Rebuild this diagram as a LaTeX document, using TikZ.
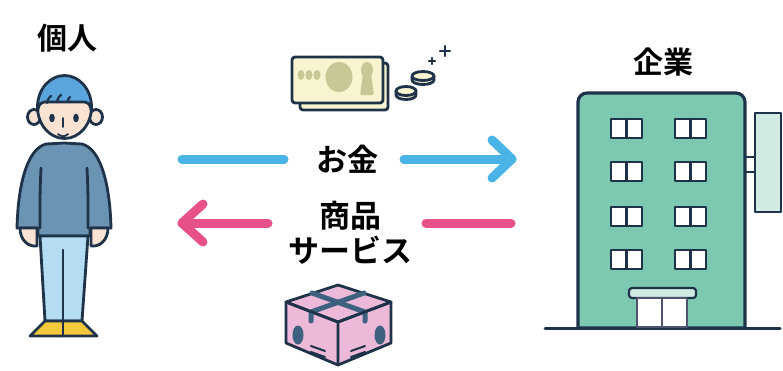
\documentclass[tikz,border=0pt]{standalone}
\usepackage{fontspec}
\newfontfamily\jpfont{Noto Sans CJK JP}[BoldFont={Noto Sans CJK JP Bold}]
\definecolor{ink}{HTML}{1E3349}
\definecolor{hair}{HTML}{5AA5DB}
\definecolor{skin}{HTML}{FBE3D3}
\definecolor{sweater}{HTML}{6B94B4}
\definecolor{pants}{HTML}{B4DCF3}
\definecolor{shoe}{HTML}{F3C93B}
\definecolor{moneyblue}{HTML}{4AB4E6}
\definecolor{goodspink}{HTML}{E8508A}
\definecolor{bill}{HTML}{F8F4CF}
\definecolor{billmark}{HTML}{C9C796}
\definecolor{boxpink}{HTML}{ECB9D9}
\definecolor{tape}{HTML}{3F6180}
\definecolor{wall}{HTML}{7CC8B1}
\definecolor{pale}{HTML}{D2EAE4}
\definecolor{doorline}{HTML}{4E5470}
\begin{document}
\begin{tikzpicture}[x=1pt,y=-1pt,line join=round,line cap=round,
  outline/.style={draw=ink,line width=2.8},
  thin outline/.style={draw=ink,line width=2.2},
  flowline/.style={line width=9,line cap=round,line join=round},
  title/.style={font=\jpfont\bfseries\fontsize{30}{34}\selectfont,inner sep=0},
  label/.style={font=\jpfont\bfseries\fontsize{31}{35}\selectfont,inner sep=0,align=center},
  pane/.style={thin outline,fill=white}]
\useasboundingbox (0,0) rectangle (783,370);

% ---------- person ----------
\node[title] (personlbl) at (67,38) {個人};
% ears
\filldraw[outline,fill=skin] (34,117) ellipse [x radius=6.5,y radius=7.5];
\filldraw[outline,fill=skin] (96,117) ellipse [x radius=6.5,y radius=7.5];
% sweater with sleeves
\filldraw[outline,fill=sweater] (64,143) -- (46,144)
  .. controls (27,149) and (18,185) .. (17,228) -- (38,228) -- (38,236)
  -- (90,236) -- (90,228) -- (111,228)
  .. controls (110,185) and (101,149) .. (82,144) -- cycle;
\draw[outline] (41,168) .. controls (40,190) .. (40,228);
\draw[outline] (87,168) .. controls (88,190) .. (88,228);
% hands
\filldraw[outline,fill=skin] (20,228) .. controls (20,240) and (28,247) .. (37,246) -- (37,228) -- cycle;
\filldraw[outline,fill=skin] (108,228) .. controls (108,240) and (100,247) .. (91,246) -- (91,228) -- cycle;
% trousers and shoes
\filldraw[outline,fill=pants] (40,236) -- (45,321) -- (82,321) -- (88,236) -- cycle;
\filldraw[outline,fill=shoe] (45,321) -- (30,336) -- (97,336) -- (82,321) -- cycle;
\draw[outline] (63,250) -- (63,336);
% head
\fill[skin] (64.5,107) ellipse [x radius=27,y radius=31.5];
\begin{scope}
  \clip (64.5,107) ellipse [x radius=27,y radius=31.5];
  \fill[hair] (20,60) -- (110,60) -- (110,114) -- (92,114)
    .. controls (90,104) .. (85,102) -- (44,102) .. controls (39,104) .. (37,114)
    -- (20,114) -- cycle;
  \draw[outline] (92,114) .. controls (90,104) .. (85,102) -- (44,102)
    .. controls (39,104) .. (37,114);
\end{scope}
\draw[outline] (64.5,107) ellipse [x radius=27,y radius=31.5];
\draw[thin outline] (47,103) .. controls (48,99) .. (51,96);
\draw[thin outline] (57,102) .. controls (58,98) .. (61,95);
\draw[thin outline] (68,102) .. controls (68,99) .. (70,97);
\fill[ink] (52,118) ellipse [x radius=2.8,y radius=4.3];
\fill[ink] (76,118) ellipse [x radius=2.8,y radius=4.3];
\draw[ink,line width=1.6] (63,118) -- (63,127);
\draw[ink,line width=1.8] (58,134) .. controls (61,137) and (65,137) .. (68,134);

% ---------- company building ----------
\node[title] (companylbl) at (663,62) {企業};
\draw[ink,line width=3] (545,328) -- (780,328);
\draw[ink,line width=2.8] (745,157) -- (755,157) (745,172) -- (755,172);
\filldraw[outline,fill=pale] (755,113) rectangle (781,212);
\filldraw[outline,fill=wall,line width=3.2]
  (578,328) -- (578,103) [rounded corners=9] -- (578,93) -- (745,93) [sharp corners] -- (745,103) -- (745,328) -- cycle;
\foreach \y in {119,162,207,250} {
  \foreach \x in {611,675} {
    \filldraw[pane] (\x,\y) rectangle ++(31,19);
    \draw[thin outline] (\x+15.5,\y) -- ++(0,19);
  }
}
\filldraw[thin outline,fill=pale,rounded corners=3] (629,288) rectangle (696,298);
\filldraw[draw=doorline,line width=2.2,fill=white] (637,298) rectangle (687,327);
\draw[doorline,line width=2.2] (662,298) -- (662,327);

% ---------- money ----------
\filldraw[outline,fill=bill,rounded corners=3] (300,63) rectangle (388,110);
\filldraw[outline,fill=bill,rounded corners=3] (292,57) rectangle (383,103);
\fill[billmark] (301,75) ellipse [x radius=3.5,y radius=5];
\fill[billmark] (309,75) ellipse [x radius=3.5,y radius=5];
\fill[billmark] (317,75) ellipse [x radius=3.5,y radius=5];
\fill[billmark] (339,77) ellipse [x radius=13.5,y radius=15];
\fill[billmark] (367,70) ellipse [x radius=6,y radius=8];
\fill[billmark,rounded corners=2] (363,74) -- (371,74) -- (374,95) -- (360,95) -- cycle;
% coins
\filldraw[outline,fill=bill] (396,91) -- (396,95) arc [start angle=180,end angle=0,x radius=10,y radius=4.5] -- (416,91) -- cycle;
\filldraw[outline,fill=bill] (406,91) ellipse [x radius=10,y radius=4.5];
\filldraw[outline,fill=bill] (412,76) -- (412,80) arc [start angle=180,end angle=0,x radius=11,y radius=4.5] -- (434,76) -- cycle;
\filldraw[outline,fill=bill] (423,76) ellipse [x radius=11,y radius=4.5];
% sparkles
\draw[ink,line width=2.2] (429,61) -- (435,61) (432,58) -- (432,64);
\draw[ink,line width=2.4] (440,51) -- (450,51) (445,46) -- (445,56);

% ---------- flows ----------
\node[label] (moneylbl) at (347,159) {お金};
\node[label] (goodslbl) at (350,233) {商品\\サービス};
\coordinate (mA) at (182,159);
\coordinate (mB) at (284,159);
\coordinate (mC) at (404,159);
\coordinate (mD) at (512,159);
\draw[flowline,moneyblue] (mA) -- (mB);
\draw[flowline,moneyblue] (mC) -- (mD);
\draw[flowline,moneyblue] (mD) ++(-20,-19) -- (mD) -- ++(-20,19);
\coordinate (gA) at (511,223);
\coordinate (gB) at (426,223);
\coordinate (gC) at (268,223);
\coordinate (gD) at (182,223);
\draw[flowline,goodspink] (gA) -- (gB);
\draw[flowline,goodspink] (gC) -- (gD);
\draw[flowline,goodspink] (gD) ++(21,-19) -- (gD) -- ++(21,19);

% ---------- parcel ----------
\coordinate (bT) at (338,285);
\coordinate (bL) at (286,302);
\coordinate (bR) at (391,302);
\coordinate (bF) at (338,322);
\coordinate (bBL) at (286,343);
\coordinate (bBF) at (338,365);
\coordinate (bBR) at (391,343);
\filldraw[outline,fill=boxpink] (bT) -- (bR) -- (bBR) -- (bBF) -- (bBL) -- (bL) -- cycle;
\draw[outline] (bL) -- (bF) -- (bR) (bF) -- (bBF);
\draw[tape,line width=5] (312,293) -- (365,312) -- (365,321);
\draw[tape,line width=5] (364,293) -- (311,312) -- (311,321);
\draw[outline] (bL) -- (bF) -- (bR);
\fill[tape] (298,335) ellipse [x radius=5.5,y radius=9.5];
\fill[tape] (380,335) ellipse [x radius=5.5,y radius=9.5];
\draw[ink,line width=2] (311,346) -- (325,351) (311,352) -- (325,357);
\draw[ink,line width=2] (351,351) -- (365,346) (351,357) -- (365,352);
\end{tikzpicture}
\end{document}
